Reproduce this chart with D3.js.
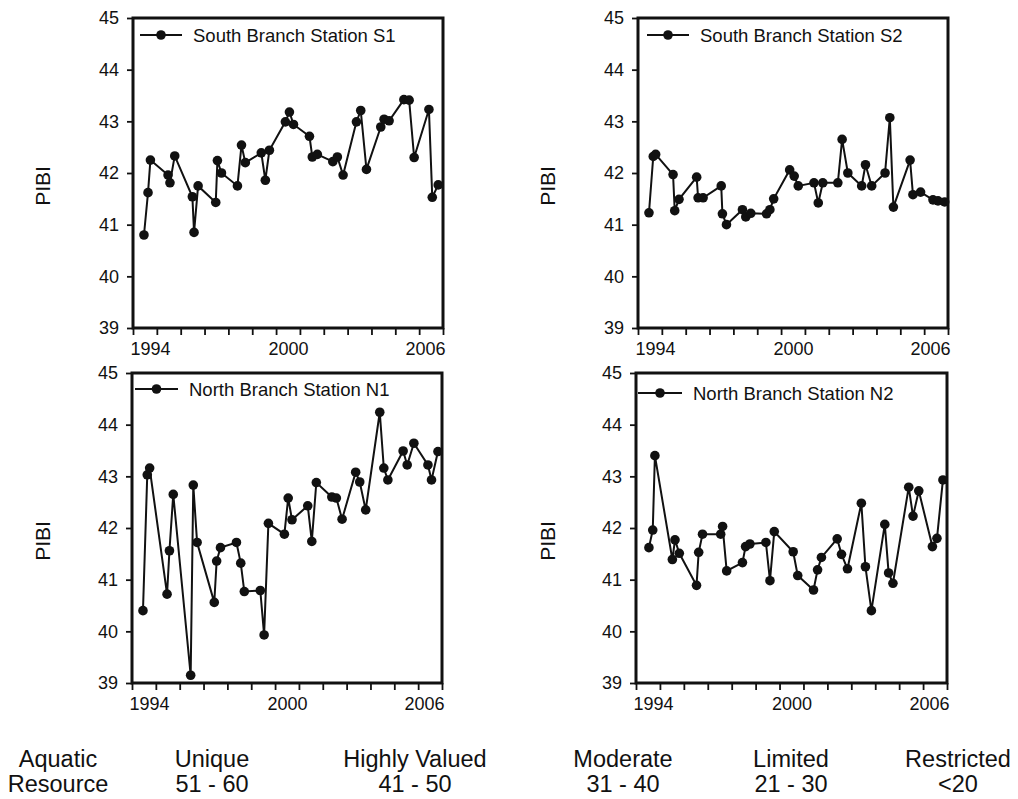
<!DOCTYPE html>
<html>
<head>
<meta charset="utf-8">
<script src="https://cdn.jsdelivr.net/npm/d3@7"></script>
<style>
  html, body { margin: 0; padding: 0; background: #fff; }
  svg { display: block; font-family: "Liberation Sans", Arial, sans-serif; }
</style>
</head>
<body>
<svg id="chart" width="1018" height="799"></svg>
<script>
// ---------- DATA ----------
const seriesNames = ["South Branch Station S1", "South Branch Station S2", "North Branch Station N1", "North Branch Station N2"];

const s1Dates = [1994.46,1994.63,1994.73,1995.47,1995.55,1995.75,1996.49,1996.56,1996.73,1997.47,1997.54,1997.71,1998.38,1998.55,1998.71,1999.38,1999.55,1999.72,2000.39,2000.56,2000.73,2001.40,2001.52,2001.73,2002.38,2002.57,2002.81,2003.37,2003.55,2003.79,2004.39,2004.53,2004.74,2005.36,2005.58,2005.79,2006.41,2006.55,2006.80];
const s1Pibi  = [40.80,41.62,42.25,41.96,41.81,42.33,41.54,40.85,41.75,41.43,42.24,42.00,41.75,42.54,42.20,42.39,41.86,42.44,42.99,43.18,42.94,42.71,42.31,42.36,42.22,42.31,41.96,42.99,43.21,42.07,42.89,43.04,43.01,43.42,43.41,42.30,43.23,41.53,41.77];

const s2Dates = [1994.46,1994.64,1994.74,1995.47,1995.54,1995.72,1996.46,1996.52,1996.73,1997.49,1997.54,1997.71,1998.38,1998.52,1998.73,1999.39,1999.53,1999.69,2000.36,2000.55,2000.72,2001.38,2001.56,2001.75,2002.38,2002.56,2002.80,2003.38,2003.54,2003.80,2004.36,2004.56,2004.71,2005.41,2005.53,2005.85,2006.37,2006.58,2006.86];
const s2Pibi  = [41.23,42.32,42.36,41.97,41.27,41.49,41.92,41.52,41.52,41.75,41.21,41.00,41.29,41.15,41.22,41.21,41.29,41.50,42.06,41.94,41.75,41.81,41.42,41.81,41.81,42.65,42.00,41.75,42.16,41.75,42.00,43.07,41.34,42.25,41.58,41.63,41.48,41.46,41.44];

const n1Dates = [1994.46,1994.64,1994.74,1995.47,1995.57,1995.73,1996.46,1996.57,1996.73,1997.45,1997.55,1997.71,1998.38,1998.56,1998.71,1999.38,1999.54,1999.72,2000.39,2000.55,2000.71,2001.37,2001.54,2001.73,2002.38,2002.57,2002.81,2003.38,2003.55,2003.80,2004.39,2004.56,2004.73,2005.37,2005.54,2005.82,2006.41,2006.56,2006.83];
const n1Pibi  = [40.40,43.03,43.16,40.72,41.56,42.65,39.15,42.83,41.72,40.56,41.36,41.62,41.72,41.32,40.77,40.79,39.93,42.09,41.88,42.58,42.16,42.43,41.74,42.88,42.60,42.58,42.17,43.08,42.89,42.35,44.24,43.16,42.93,43.49,43.22,43.64,43.22,42.93,43.48];

const n2Dates = [1994.54,1994.70,1994.79,1995.52,1995.63,1995.81,1996.53,1996.62,1996.78,1997.54,1997.62,1997.79,1998.45,1998.58,1998.76,1999.43,1999.60,1999.78,2000.57,2000.76,2001.42,2001.59,2001.75,2002.41,2002.59,2002.84,2003.42,2003.59,2003.84,2004.40,2004.56,2004.74,2005.40,2005.58,2005.82,2006.39,2006.58,2006.83];
const n2Pibi  = [41.62,41.96,43.40,41.39,41.77,41.51,40.89,41.53,41.88,41.88,42.03,41.17,41.33,41.64,41.69,41.72,40.98,41.93,41.54,41.08,40.80,41.19,41.43,41.79,41.49,41.21,42.48,41.25,40.40,42.07,41.13,40.93,42.79,42.23,42.72,41.64,41.80,42.93];

const xDomain = [1994, 2007];
const yDomain = [39, 45];
const yTicks = [39, 40, 41, 42, 43, 44, 45];
const xMinorTicks = d3.range(1994, 2008);
const xLabelYears = [1994, 2000, 2006];
const yAxisTitle = "PIBI";

const resourceClasses = ["Aquatic", "Unique", "Highly Valued", "Moderate", "Limited", "Restricted"];
const resourceRanges  = ["Resource", "51 - 60", "41 - 50", "31 - 40", "21 - 30", "<20"];

// ---------- LAYOUT ----------
const panels = [
  { name: seriesNames[0], dates: s1Dates, vals: s1Pibi, x: 133, y: 18, w: 310, h: 310, lg: { x0: 7, x1: 49, tx: 60, y: 17 }, titleX: 42 },
  { name: seriesNames[1], dates: s2Dates, vals: s2Pibi, x: 638, y: 18, w: 310, h: 310, lg: { x0: 9, x1: 51, tx: 62, y: 17 }, titleX: 547 },
  { name: seriesNames[2], dates: n1Dates, vals: n1Pibi, x: 132, y: 373, w: 310, h: 310, lg: { x0: 3, x1: 46, tx: 57, y: 16 }, titleX: 42 },
  { name: seriesNames[3], dates: n2Dates, vals: n2Pibi, x: 636, y: 373, w: 311, h: 310, lg: { x0: 2, x1: 46, tx: 57, y: 20 }, titleX: 547 }
];
const bottomCols = [58, 212, 415, 623, 791, 958];

const INK = "#111";
const svg = d3.select("#chart");

panels.forEach(p => {
  const x = d3.scaleLinear().domain(xDomain).range([0, p.w]);
  const y = d3.scaleLinear().domain(yDomain).range([p.h, 0]);
  const g = svg.append("g").attr("transform", `translate(${p.x},${p.y})`);

  // y axis
  const ya = g.append("g").call(d3.axisLeft(y).tickValues(yTicks).tickSize(6).tickPadding(8).tickFormat(d3.format("d")));
  ya.select(".domain").remove();
  ya.selectAll("line").attr("stroke", INK).attr("stroke-width", 1.8);
  ya.selectAll("text").attr("font-size", 18).attr("fill", INK).attr("font-family", "Liberation Sans, Arial, sans-serif");

  // x axis ticks
  const xa = g.append("g").attr("transform", `translate(0,${p.h})`)
    .call(d3.axisBottom(x).tickValues(xMinorTicks).tickSize(7).tickFormat(""));
  xa.select(".domain").remove();
  xa.selectAll("line").attr("stroke", INK).attr("stroke-width", 1.8);

  // x labels
  const xl = g.append("g").attr("transform", `translate(0,${p.h})`)
    .call(d3.axisBottom(x).tickValues(xLabelYears.map(v => v + 0.5)).tickSize(0).tickPadding(14).tickFormat(d => String(Math.floor(d))));
  xl.select(".domain").remove();
  xl.selectAll("text").attr("font-size", 18).attr("fill", INK).attr("font-family", "Liberation Sans, Arial, sans-serif");
  xl.selectAll(".tick").each(function(d, i, nodes) {
    const t = d3.select(this).select("text");
    if (i === 0) t.attr("text-anchor", "start").attr("x", x(xDomain[0]) - x(d) - 3);
    if (i === nodes.length - 1) t.attr("text-anchor", "end").attr("x", x(xDomain[1]) - x(d) + 2);
  });

  // frame
  g.append("rect").attr("x", 0).attr("y", 0).attr("width", p.w).attr("height", p.h)
    .attr("fill", "none").attr("stroke", INK).attr("stroke-width", 3);

  // data line
  const line = d3.line().x(d => x(d[0])).y(d => y(d[1]));
  const pts = p.dates.map((d, i) => [d, p.vals[i]]);
  g.append("path").datum(pts).attr("d", line).attr("fill", "none").attr("stroke", INK).attr("stroke-width", 2);
  g.selectAll("circle.pt").data(pts).enter().append("circle").attr("class", "pt")
    .attr("cx", d => x(d[0])).attr("cy", d => y(d[1])).attr("r", 4.8).attr("fill", INK);

  // legend
  g.append("line").attr("x1", p.lg.x0).attr("x2", p.lg.x1).attr("y1", p.lg.y).attr("y2", p.lg.y)
    .attr("stroke", INK).attr("stroke-width", 2);
  g.append("circle").attr("cx", (p.lg.x0 + p.lg.x1) / 2).attr("cy", p.lg.y).attr("r", 4.8).attr("fill", INK);
  g.append("text").attr("x", p.lg.tx).attr("y", p.lg.y + 6.6).attr("font-size", 18.5).attr("fill", INK).text(p.name);

  // y title
  svg.append("text").attr("transform", `translate(${p.titleX},${p.y + 168}) rotate(-90)`)
    .attr("text-anchor", "middle").attr("dominant-baseline", "central")
    .attr("font-size", 21).attr("fill", INK).text(yAxisTitle);
});

// bottom legend text
resourceClasses.forEach((c, i) => {
  svg.append("text").attr("x", bottomCols[i]).attr("y", 767).attr("text-anchor", "middle")
    .attr("font-size", 23.5).attr("fill", INK).text(c);
  svg.append("text").attr("x", bottomCols[i]).attr("y", 792).attr("text-anchor", "middle")
    .attr("font-size", 23.5).attr("fill", INK).text(resourceRanges[i]);
});
</script>
</body>
</html>
